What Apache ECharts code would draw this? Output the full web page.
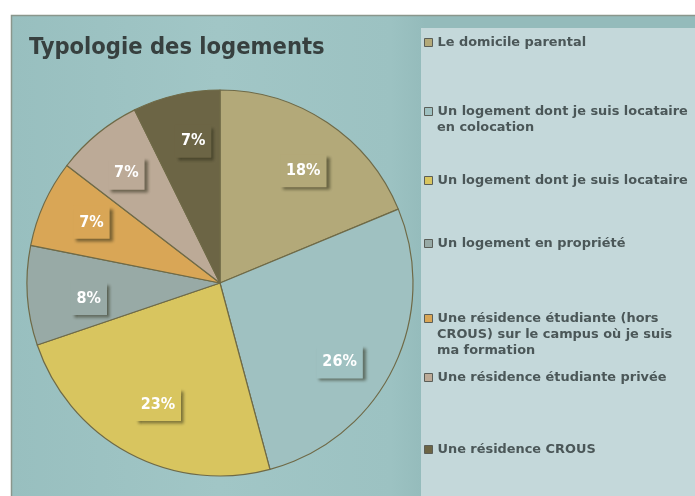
<!DOCTYPE html>
<html>
<head>
<meta charset="utf-8">
<script src="https://cdn.jsdelivr.net/npm/echarts@6/dist/echarts.min.js"></script>
<style>
  html, body { margin: 0; padding: 0; background: #ffffff; }
  #chart { width: 695px; height: 496px; }
</style>
</head>
<body>
<div id="chart"></div>
<script>
// Housing types (share of respondents, %)
const categories = [
  'Le domicile parental',
  'Un logement dont je suis locataire\nen colocation',
  'Un logement dont je suis locataire',
  'Un logement en propriété',
  'Une résidence étudiante (hors\nCROUS) sur le campus où je suis\nma formation',
  'Une résidence étudiante privée',
  'Une résidence CROUS'
];
const shares = [18, 26, 23, 8, 7, 7, 7];
const sliceColors = ['#b3a979', '#9fc1c1', '#d8c55f', '#98aaa6', '#d9a656', '#bcaa97', '#6c6545'];
const titleText = 'Typologie des logements';

// Layout: first-line centre of each legend entry, and nudges for the value boxes
const legendTops = [42, 111, 180, 243, 318, 377, 449];
const labelNudges = [[3, 8], [-10, 15], [6, -6], [13, 6], [3, -1], [-2, 2], [6, -1]];

const chart = echarts.init(document.getElementById('chart'), null, { renderer: 'canvas' });

const pieData = categories.map((name, i) => ({
  name,
  value: shares[i],
  itemStyle: { color: sliceColors[i] }
}));

const labelData = categories.map((name, i) => ({
  name,
  value: shares[i],
  label: { backgroundColor: sliceColors[i], offset: labelNudges[i] }
}));

const LH = 16;
const legendFont = {
  fontFamily: 'DejaVu Sans',
  fontWeight: 'bold',
  fontSize: 12.9,
  color: '#4b5758'
};

const legends = categories.map((name, i) => ({
  data: [name],
  left: 424,
  top: legendTops[i] - 6,
  orient: 'vertical',
  icon: 'rect',
  itemWidth: 8,
  itemHeight: 8,
  itemGap: 0,
  padding: 0,
  selectedMode: false,
  itemStyle: { borderColor: '#5a5e58', borderWidth: 1 },
  formatter: n => n.split('\n')[0],
  textStyle: Object.assign({}, legendFont)
}));

// Continuation lines of the wrapped legend entries
const extraLines = [];
categories.forEach((name, i) => {
  name.split('\n').slice(1).forEach((line, k) => {
    extraLines.push({
      type: 'text',
      x: 437,
      y: legendTops[i] + 1 + (k + 1) * LH,
      style: {
        text: line,
        fontFamily: legendFont.fontFamily,
        fontWeight: legendFont.fontWeight,
        fontSize: legendFont.fontSize,
        fill: legendFont.color,
        verticalAlign: 'middle'
      }
    });
  });
});

chart.setOption({
  animation: false,
  backgroundColor: '#ffffff',
  graphic: [
    {
      type: 'rect', z: -10, silent: true,
      shape: { x: 11.5, y: 15.5, width: 690, height: 490 },
      style: {
        fill: new echarts.graphic.LinearGradient(0, 0, 1, 0, [
          { offset: 0, color: '#98bfbf' },
          { offset: 0.3, color: '#a1c6c6' },
          { offset: 0.55, color: '#9cc2c2' },
          { offset: 0.6, color: '#94bbbb' },
          { offset: 1, color: '#94bbbb' }
        ]),
        stroke: '#8a968c', lineWidth: 1.5
      }
    },
    {
      type: 'rect', z: -9, silent: true,
      shape: { x: 421, y: 28, width: 280, height: 470 },
      style: { fill: '#c4d8da' }
    },
    {
      type: 'text', left: 29, top: 36,
      style: {
        text: titleText,
        fontFamily: 'DejaVu Sans Condensed',
        fontWeight: 'bold',
        fontSize: 23.5,
        fill: '#37403f'
      }
    }
  ].concat(extraLines),
  legend: legends,
  series: [
    {
      type: 'pie',
      center: [220, 283],
      radius: [0, 193],
      startAngle: 90,
      clockwise: true,
      silent: true,
      label: { show: false },
      labelLine: { show: false },
      itemStyle: { borderColor: '#6f6a47', borderWidth: 1.2 },
      data: pieData
    },
    {
      type: 'pie',
      center: [220, 283],
      radius: [90, 193],
      startAngle: 90,
      clockwise: true,
      silent: true,
      legendHoverLink: false,
      itemStyle: { color: 'rgba(0,0,0,0)', borderWidth: 0 },
      label: {
        show: true,
        position: 'inside',
        formatter: '{c}%',
        color: '#ffffff',
        fontFamily: 'DejaVu Sans Condensed',
        fontWeight: 'bold',
        fontSize: 16,
        padding: [9, 6, 8, 6],
        shadowColor: 'rgba(40,40,20,0.55)',
        shadowBlur: 3,
        shadowOffsetX: 3,
        shadowOffsetY: 3
      },
      labelLine: { show: false },
      data: labelData
    }
  ]
});
</script>
</body>
</html>
